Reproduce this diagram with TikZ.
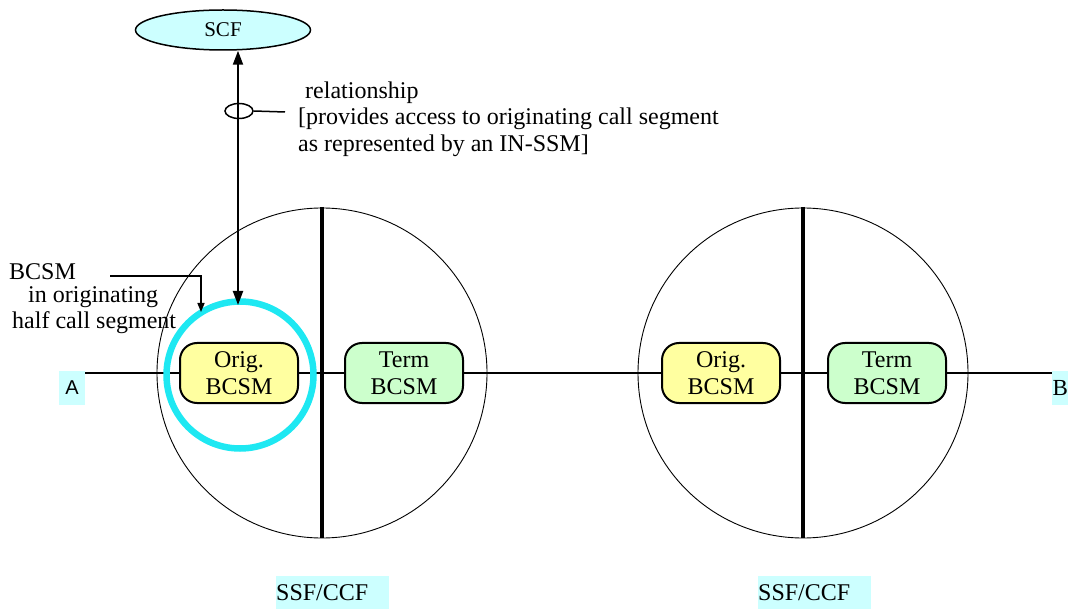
\documentclass[tikz,border=0pt]{standalone}
\usepackage{fontspec}
\setmainfont{Liberation Serif}
\newfontfamily\arialfont{Liberation Sans}
\usetikzlibrary{arrows.meta,shapes.geometric}
\definecolor{scfcyan}{RGB}{204,255,255}
\definecolor{ringcyan}{RGB}{30,232,242}
\definecolor{origyellow}{RGB}{255,255,160}
\definecolor{termgreen}{RGB}{204,255,204}
\definecolor{lblcyan}{RGB}{204,255,255}
\tikzset{
  bcsmbox/.style={draw, line width=2pt, rounded corners=17pt, minimum width=118pt, minimum height=60pt, align=center, inner sep=0pt, font=\fontsize{24}{27}\selectfont},
  origbox/.style={bcsmbox, fill=origyellow},
  termbox/.style={bcsmbox, fill=termgreen},
  bigcirc/.style={draw, line width=0.9pt},
  divider/.style={line width=3.5pt},
  lbl/.style={font=\fontsize{24}{27}\selectfont, inner sep=0pt},
  endlbl/.style={fill=lblcyan, minimum height=33pt, inner sep=0pt},
  ssflbl/.style={fill=lblcyan, minimum height=33pt, text width=113pt, inner sep=0pt, font=\fontsize{24}{27}\selectfont}
}
\begin{document}
\begin{tikzpicture}[x=1pt,y=-1pt]
\useasboundingbox (0,0) rectangle (1068,609);
% big circles
\draw[bigcirc] (322,373) circle [radius=165];
\draw[bigcirc] (803,373) circle [radius=165];
% dividers
\draw[divider] (322,207) -- (322,538);
\draw[divider] (803,207) -- (803,538);
% end labels
\node[endlbl, minimum width=26pt, font=\arialfont\fontsize{20}{24}\selectfont] (A) at (72,388) {A};
\node[endlbl, minimum width=16pt, anchor=west, font=\fontsize{23}{26}\selectfont] (B) at (1052,388) {B};
% BCSM boxes
\node[origbox] (o1) at (239,373) {Orig.\\BCSM};
\node[termbox] (t1) at (404,373) {Term\\BCSM};
\node[origbox] (o2) at (721,373) {Orig.\\BCSM};
\node[termbox] (t2) at (887,373) {Term\\BCSM};
% horizontal line
\draw[line width=2pt] (85,373) -- (o1.west);
\draw[line width=2pt] (o1) -- (t1);
\draw[line width=2pt] (t1) -- (o2);
\draw[line width=2pt] (o2) -- (t2);
\draw[line width=2pt] (t2.east) -- (B.west |- 0,373);
% cyan ring
\draw[ringcyan, line width=6.5pt] (240,375) circle [radius=73.5];
\coordinate (ringtop) at (238,305);
% SCF
\node[ellipse, draw, line width=1.5pt, fill=scfcyan, minimum width=175pt, minimum height=40pt, inner sep=0pt, font=\fontsize{21}{24}\selectfont] (scf) at (223,30) {SCF};
\draw[line width=2pt, {Triangle[width=10pt,length=14pt]}-{Triangle[width=10pt,length=14pt]}] (scf.south -| ringtop) -- (ringtop);
% relationship loop
\node[ellipse, draw, line width=1.5pt, minimum width=28pt, minimum height=15pt, inner sep=0pt] (loop) at (239,111) {};
\coordinate (relend) at (285,112);
\draw[line width=1.5pt] (loop.east) -- (relend);
\node[lbl, anchor=west] (rel1) at (305,93) {relationship};
\node[lbl, anchor=west] (rel2) at (298,119) {[provides access to originating call segment};
\node[lbl, anchor=west] (rel3) at (298,146) {as represented by an IN-SSM]};
% BCSM label
\node[lbl, anchor=base west] (bl1) at (9,280) {BCSM};
\node[lbl, anchor=base west] (bl2) at (28,303) {in originating};
\node[lbl, anchor=base west] (bl3) at (12,329) {half call segment};
\coordinate (ptstart) at (110,276);
\coordinate (pttip) at (201,312);
\draw[line width=1.5pt, -{Triangle[width=7pt,length=9pt]}] (ptstart) -| (pttip);
% SSF/CCF labels
\node[ssflbl, anchor=north west] (ssf1) at (276,576) {SSF/CCF};
\node[ssflbl, anchor=north west] (ssf2) at (758,576) {SSF/CCF};
\end{tikzpicture}
\end{document}
